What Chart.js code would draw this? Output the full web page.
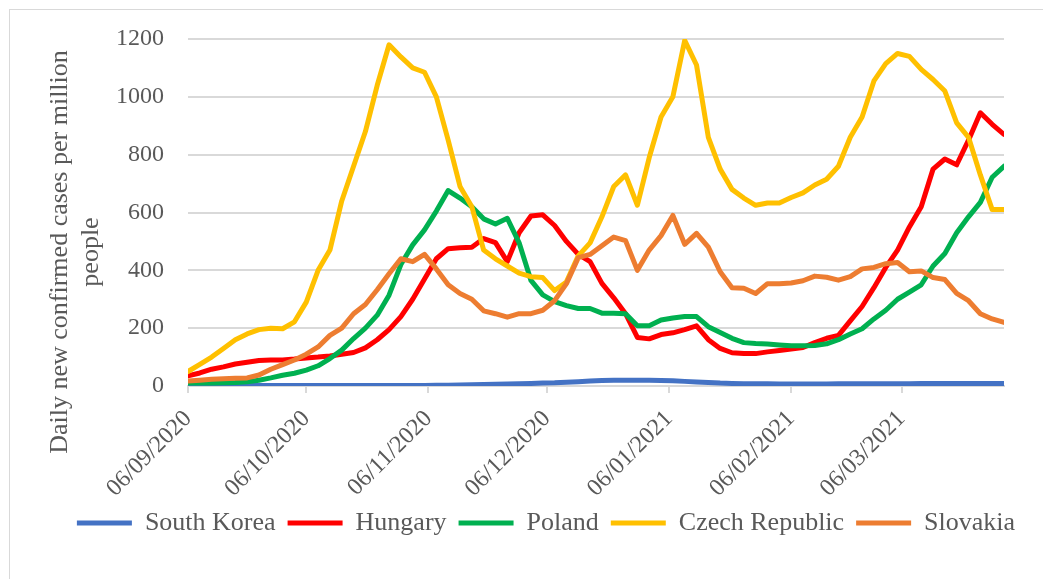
<!DOCTYPE html>
<html>
<head>
<meta charset="utf-8">
<script src="https://cdn.jsdelivr.net/npm/chart.js@4.4.1/dist/chart.umd.min.js"></script>
<style>
  html, body { margin: 0; padding: 0; background: #fff; }
  #frame { position: absolute; left: 9px; top: 9px; width: 1040px; height: 575px; border: 1.5px solid #d9d9d9; }
  #wrap { position: absolute; left: 0; top: 0; width: 1043px; height: 579px; }
</style>
</head>
<body>
<div id="frame"></div>
<div id="wrap"><canvas id="casesChart"></canvas></div>
<script>
// days since 06/09/2020, one point every 3 days
const dayOffsets = [
  0, 3, 6, 9, 12, 15, 18, 21, 24, 27,
  30, 33, 36, 39, 42, 45, 48, 51, 54, 57,
  60, 63, 66, 69, 72, 75, 78, 81, 84, 87,
  90, 93, 96, 99, 102, 105, 108, 111, 114, 117,
  120, 123, 126, 129, 132, 135, 138, 141, 144, 147,
  150, 153, 156, 159, 162, 165, 168, 171, 174, 177,
  180, 183, 186, 189, 192, 195, 198, 201, 204, 207
];

const tickDays = [0, 30, 61, 91, 122, 153, 181];
const tickLabels = ["06/09/2020", "06/10/2020", "06/11/2020", "06/12/2020", "06/01/2021", "06/02/2021", "06/03/2021"];

const southKorea = [
  2, 2, 2, 2, 2, 2, 2, 2, 2, 2,
  1.5, 1.5, 1.5, 1.5, 1.5, 2, 2, 2, 2, 2,
  2, 2.5, 3, 3.5, 4, 5, 6, 7, 8, 9,
  10, 11, 13, 15, 17, 19, 20, 20, 20, 20,
  19, 18, 16, 14, 12, 10, 9, 8, 8, 7.5,
  7, 7, 7, 7, 7, 8, 8, 8, 8, 8,
  8, 8, 8.5, 9, 9, 9, 9, 9, 9, 9
];

const hungary = [
  35, 45, 58, 66, 76, 82, 88, 90, 90, 93,
  97, 100, 104, 110, 116, 132, 160, 195, 240, 300,
  370, 440, 475, 478, 480, 510, 496, 430, 530, 588,
  592, 555, 500, 455, 430, 355, 305, 250, 168, 163,
  178, 184, 195, 208, 160, 130, 115, 112, 112, 118,
  123, 128, 133, 150, 165, 175, 225, 275, 340, 410,
  470, 550, 620, 750, 785, 765, 850, 945, 905, 870
];

const poland = [
  10, 10, 10, 11, 12, 15, 20, 28, 37, 44,
  55, 70, 95, 124, 164, 200, 245, 314, 420, 488,
  540, 605, 676, 650, 620, 578, 560, 580, 495, 365,
  315, 292, 278, 268, 268, 252, 252, 250, 208, 208,
  228, 235, 240, 240, 205, 185, 165, 150, 147, 145,
  142, 139, 139, 140, 146, 160, 180, 198, 232, 262,
  300, 325, 350, 415, 458, 530, 585, 635, 722, 760
];

const czechRepublic = [
  50, 75, 100, 130, 160, 180, 195, 200, 198, 222,
  290, 400, 470, 640, 760, 880, 1040, 1180, 1138, 1100,
  1085, 1000, 850, 690, 620, 470, 440, 415, 390, 378,
  375, 330, 360, 450, 495, 585, 690, 730, 625, 790,
  930, 1000, 1195, 1110, 860, 750, 680, 650, 625, 633,
  633, 652, 668, 695, 715, 760, 860, 930, 1055, 1115,
  1150, 1140, 1095, 1060, 1020, 910, 860, 730, 610, 610
];

const slovakia = [
  17, 20, 23, 25, 27, 28, 38, 58, 74, 90,
  110, 135, 175, 200, 250, 282, 333, 388, 440, 430,
  455, 405, 350, 320, 300, 260, 250, 238, 250, 250,
  262, 295, 354, 444, 455, 485, 515, 503, 400, 470,
  520, 590, 490, 528, 480, 395, 340, 338, 320, 354,
  354, 356, 364, 380, 376, 366, 378, 405, 410, 423,
  427, 395, 398, 375, 368, 320, 295, 250, 232, 220
];

const seriesNames = ["South Korea", "Hungary", "Poland", "Czech Republic", "Slovakia"];
const seriesColors = ["#4472C4", "#FF0000", "#00B050", "#FFC000", "#ED7D31"];
const seriesValues = [southKorea, hungary, poland, czechRepublic, slovakia];

const textColor = "#595959";
const gridColor = "#d9d9d9";
const fontFamily = "'Liberation Serif', 'DejaVu Serif', serif";

const datasets = seriesNames.map((name, i) => ({
  label: name,
  data: dayOffsets.map((d, j) => ({ x: d, y: seriesValues[i][j] })),
  borderColor: seriesColors[i],
  backgroundColor: seriesColors[i],
  borderWidth: 5,
  borderJoinStyle: "round",
  borderCapStyle: "round",
  pointRadius: 0,
  tension: 0,
  order: seriesNames.length - i // later series drawn on top, like Excel
}));

// y axis title, centred like the original (not on the plot area)
const yTitlePlugin = {
  id: "yTitle",
  afterDraw(chart) {
    const ctx = chart.ctx;
    ctx.save();
    ctx.fillStyle = textColor;
    ctx.font = "26px " + fontFamily;
    ctx.textAlign = "center";
    ctx.textBaseline = "middle";
    const lines = ["Daily new confirmed cases per million", "people"];
    const xs = [60, 91];
    lines.forEach((t, i) => {
      ctx.save();
      ctx.translate(xs[i], 252);
      ctx.rotate(-Math.PI / 2);
      ctx.fillText(t, 0, 0);
      ctx.restore();
    });
    ctx.restore();
  }
};

// the original legend sits a bit right of the canvas centre
const legendShift = {
  id: "legendShift",
  afterLayout(chart) {
    chart.legend.left += 44;
    chart.legend.right += 44;
  }
};

new Chart(document.getElementById("casesChart"), {
  type: "line",
  data: { datasets },
  plugins: [yTitlePlugin, legendShift],
  options: {
    responsive: true,
    maintainAspectRatio: false,
    animation: false,
    layout: { padding: { top: 39, right: 39, left: 0, bottom: 33 } },
    plugins: {
      tooltip: { enabled: false },
      legend: {
        position: "bottom",
        labels: {
          color: textColor,
          font: { family: fontFamily, size: 26 },
          boxWidth: 55,
          boxHeight: 5,
          padding: 12,
          sort: (a, b) => a.datasetIndex - b.datasetIndex,
          generateLabels: chart =>
            Chart.defaults.plugins.legend.labels.generateLabels(chart).map(l => ({ ...l, lineWidth: 0 }))
        }
      }
    },
    scales: {
      x: {
        type: "linear",
        min: 0,
        max: 207,
        afterBuildTicks: s => { s.ticks = tickDays.map(v => ({ value: v })); },
        afterFit: s => { s.height = 112; },
        ticks: {
          color: textColor,
          font: { family: fontFamily, size: 24 },
          minRotation: 45,
          maxRotation: 45,
          autoSkip: false,
          padding: 12,
          callback: (v, i) => tickLabels[i]
        },
        grid: { drawOnChartArea: false, color: gridColor, lineWidth: 2, tickLength: 7 },
        border: { color: gridColor, width: 2 }
      },
      y: {
        min: 0,
        max: 1200,
        afterFit: s => { s.width = 188; },
        ticks: {
          stepSize: 200,
          color: textColor,
          font: { family: fontFamily, size: 24 },
          padding: 24,
          callback: v => String(v)
        },
        grid: { color: gridColor, lineWidth: 2, drawTicks: false },
        border: { display: false }
      }
    }
  }
});
</script>
</body>
</html>
